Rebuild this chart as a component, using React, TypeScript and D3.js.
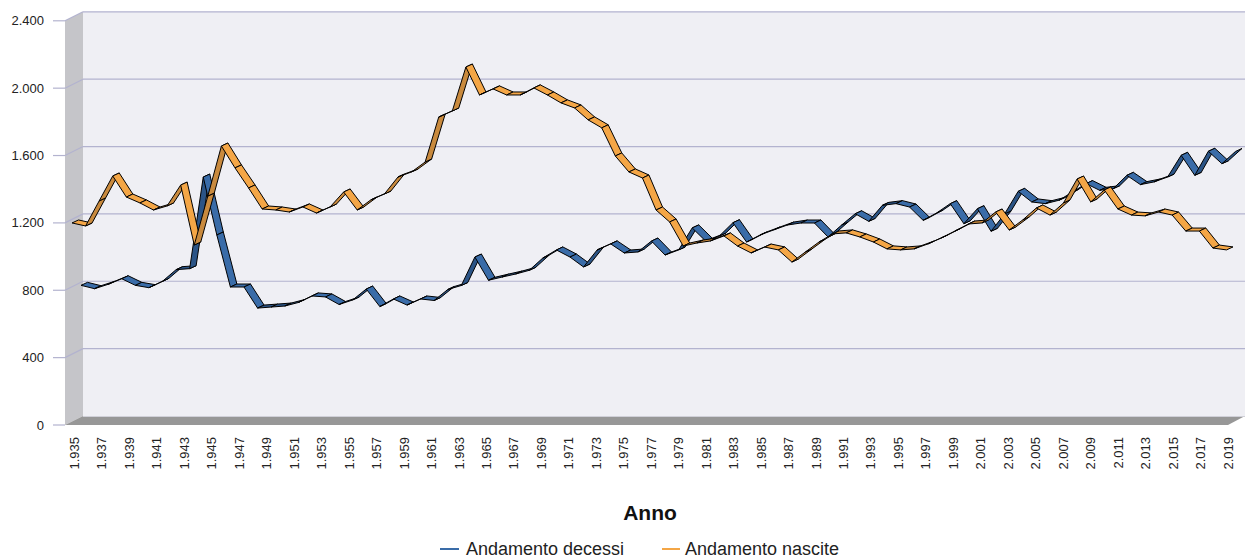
import React from 'react';
import * as d3 from 'd3';

const years: number[] = d3.range(1935, 2021);
const decessi: number[] = [783,763,789,822,783,769,807,876,882,1426,1082,773,773,648,654,660,681,720,714,669,696,761,657,702,666,702,693,758,782,951,813,832,850,872,945,993,951,892,993,1029,975,981,1046,963,993,1124,1045,1076,1155,1040,1082,1112,1141,1153,1153,1070,1141,1208,1163,1258,1268,1248,1169,1213,1268,1149,1238,1104,1207,1341,1278,1268,1288,1337,1387,1347,1357,1436,1381,1397,1426,1555,1436,1579,1505,1578];
const nascite: number[] = [1180,1162,1311,1459,1334,1299,1257,1281,1405,1049,1340,1637,1507,1388,1263,1257,1245,1275,1239,1275,1364,1257,1317,1352,1453,1483,1542,1809,1845,2106,1940,1976,1940,1940,1982,1940,1893,1863,1792,1745,1578,1483,1447,1257,1186,1043,1061,1073,1103,1043,1002,1037,1020,948,1008,1067,1115,1121,1097,1067,1026,1020,1026,1055,1091,1132,1174,1180,1245,1138,1198,1269,1227,1299,1441,1305,1376,1263,1227,1222,1245,1227,1132,1132,1031,1020];
const yTicks: number[] = [0, 400, 800, 1200, 1600, 2000, 2400];
const xTickYears: number[] = years.filter((y) => y % 2 === 1 && y <= 2019);
const seriesNames = ['Andamento decessi', 'Andamento nascite'];

const fmt = d3.formatLocale({ decimal: ',', thousands: '.', grouping: [3], currency: ['', ''] }).format(',');
const FONT = '"Liberation Sans", Arial, sans-serif';

function Ribbon({ values, x, y, lit, dark, dx, dy }: any) {
  const segs = [];
  for (let i = 0; i < values.length - 1; i++) {
    const x1 = x(years[i]), y1 = y(values[i]);
    const x2 = x(years[i + 1]), y2 = y(values[i + 1]);
    const pts = [[x1, y1], [x2, y2], [x2 + dx, y2 - dy], [x1 + dx, y1 - dy]];
    const rising = y2 < y1 - 0.5;
    segs.push(
      <polygon key={i} points={pts.map((p) => p.join(',')).join(' ')}
        fill={rising ? dark : lit} stroke="#000" strokeWidth={1} strokeLinejoin="round" />
    );
  }
  return <g>{segs}</g>;
}

export default function App() {
  const W = 1252, H = 559;
  const frontY = d3.scaleLinear().domain([0, 2400]).range([425, 20.8]);
  const backY = d3.scaleLinear().domain([0, 2400]).range([416, 11.8]);
  const fxL = 65, bxL = 83, bxR = 1245, fxR = 1228;

  const dx = 6.5, dy = 3;
  const xB = d3.scaleLinear().domain([1935, 2020]).range([81, 1235.5]);
  const yB = d3.scaleLinear().domain([0, 2400]).range([417.2, 13]);
  const xO = d3.scaleLinear().domain([1935, 2020]).range([72, 1226.5]);
  const yO = d3.scaleLinear().domain([0, 2400]).range([421.7, 17.5]);
  const xLab = d3.scaleLinear().domain([1935, 2019]).range([74.5, 1228]);

  const grid = '#b3b3cf';

  return (
    <svg width={W} height={H} style={{ position: 'absolute', left: 0, top: 0, background: '#fff' }}
      fontFamily={FONT}>
      <rect x={bxL} y={backY(2400)} width={bxR - bxL} height={backY(0) - backY(2400)} fill="#efeff4" />
      <polygon points={`${fxL},${frontY(2400)} ${bxL},${backY(2400)} ${bxL},${backY(0)} ${fxL},${frontY(0)}`} fill="#c5c5c9" />
      <polygon points={`${fxL},${frontY(0)} ${bxL},${backY(0)} ${bxR},${backY(0)} ${fxR},${frontY(0)}`} fill="#979797" />
      <line x1={bxL} x2={bxR} y1={backY(0) + 0.5} y2={backY(0) + 0.5} stroke="#d0d0d8" strokeWidth={1} />
      {yTicks.map((t) => (
        <g key={t}>
          {t > 0 && <line x1={bxL} x2={bxR} y1={backY(t)} y2={backY(t)} stroke={grid} strokeWidth={1.2} />}
          {t > 0 && <line x1={fxL} y1={frontY(t)} x2={bxL} y2={backY(t)} stroke={grid} strokeWidth={1.2} />}
          <line x1={53} x2={fxL} y1={frontY(t)} y2={frontY(t)} stroke={grid} strokeWidth={1.2} />
          <text x={44} y={frontY(t)} textAnchor="end" dominantBaseline="central" fontSize={13} fill="#222">{fmt(t)}</text>
        </g>
      ))}
      <Ribbon values={decessi} x={xB} y={yB} lit="#3a6ca8" dark="#2b5486" dx={dx} dy={dy} />
      <Ribbon values={nascite} x={xO} y={yO} lit="#f4a646" dark="#c98a3e" dx={dx} dy={dy} />
      {xTickYears.map((yr) => (
        <text key={yr} transform={`translate(${xLab(yr)},${437}) rotate(-90)`} textAnchor="end"
          dominantBaseline="central" fontSize={13} fill="#222">{fmt(yr)}</text>
      ))}
      <text x={650} y={520} textAnchor="middle" fontSize={21} fontWeight="bold" fill="#111">Anno</text>
      <line x1={440} x2={459} y1={549} y2={549} stroke="#3a6ca8" strokeWidth={2} />
      <text x={466} y={549} dominantBaseline="central" fontSize={18} fill="#222">{seriesNames[0]}</text>
      <line x1={662} x2={680} y1={549} y2={549} stroke="#f4a646" strokeWidth={2} />
      <text x={685} y={549} dominantBaseline="central" fontSize={18} fill="#222">{seriesNames[1]}</text>
    </svg>
  );
}
